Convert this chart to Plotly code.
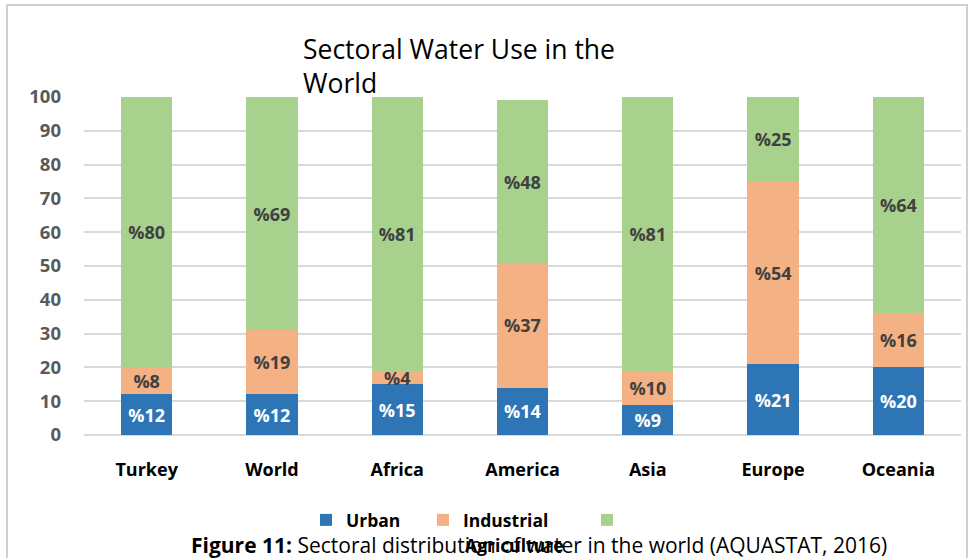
import plotly.graph_objects as go

# Regions and sectoral shares of water withdrawal (%)
regions = ["Turkey", "World", "Africa", "America", "Asia", "Europe", "Oceania"]
urban = [12, 12, 15, 14, 9, 21, 20]
industrial = [8, 19, 4, 37, 10, 54, 16]
agriculture = [80, 69, 81, 48, 81, 25, 64]

y_ticks = [0, 10, 20, 30, 40, 50, 60, 70, 80, 90, 100]

FONT = "Open Sans"
C_URBAN = "#2E75B6"
C_IND = "#F4B183"
C_AGR = "#A9D18E"
LABEL_DARK = "#404040"

# Plot-area geometry in pixels
W, H = 976, 558
L, R, T, B = 84, 15, 97, 123
PW, PH = W - L - R, H - T - B


def px_x(x):
    return (x - L) / PW


def px_y(y):
    return (H - B - y) / PH


def seg(name, vals, color, txtcolor, legend):
    return go.Bar(
        name=name, x=regions, y=vals,
        marker=dict(color=color, line=dict(width=0)),
        text=["%" + str(v) for v in vals],
        textposition="inside", insidetextanchor="middle",
        textangle=0, constraintext="none",
        textfont=dict(family=FONT, size=18, color=txtcolor, weight="bold"),
        legend=legend, hoverinfo="x+y+name",
    )


fig = go.Figure()
fig.add_trace(seg("Urban", urban, C_URBAN, "white", "legend"))
fig.add_trace(seg("Industrial", industrial, C_IND, LABEL_DARK, "legend2"))
fig.add_trace(seg("", agriculture, C_AGR, LABEL_DARK, "legend3"))

leg_common = dict(
    orientation="h", yanchor="middle", xanchor="left",
    font=dict(family=FONT, size=17.5, color="black", weight="bold"),
    bgcolor="rgba(0,0,0,0)", itemwidth=30,
)

fig.update_layout(
    width=W, height=H,
    margin=dict(l=L, r=R, t=T, b=B),
    paper_bgcolor="white", plot_bgcolor="white",
    barmode="stack", bargap=0.59,
    showlegend=True,
    legend=dict(x=px_x(306), y=px_y(520), **leg_common),
    legend2=dict(x=px_x(423), y=px_y(520), **leg_common),
    legend3=dict(x=px_x(587), y=px_y(520), **leg_common),
    xaxis=dict(
        showgrid=False, showline=False, zeroline=False, ticks="",
        ticklabelstandoff=22,
        tickfont=dict(family=FONT, size=18, color="black", weight="bold"),
    ),
    yaxis=dict(
        range=[0, 100], tickvals=y_ticks, ticks="",
        showgrid=True, gridcolor="#D9D9D9", gridwidth=1.5,
        zeroline=True, zerolinecolor="#D9D9D9", zerolinewidth=1.5,
        showline=False, ticklabelstandoff=22,
        tickfont=dict(family=FONT, size=18.5, color="#595959", weight="bold"),
    ),
    title=dict(
        text="Sectoral Water Use in the<br>World",
        x=px_x(303), xanchor="left", xref="paper",
        y=1 - 59 / H, yanchor="middle", yref="container",
        font=dict(family=FONT, size=26.5, color="black"),
    ),
    annotations=[
        dict(
            text="Agriculture", x=px_x(463), y=px_y(545),
            xref="paper", yref="paper", xanchor="left", yanchor="middle",
            showarrow=False,
            font=dict(family=FONT, size=17.5, color="black", weight="bold"),
        ),
        dict(
            text="<b>Figure 11:</b> Sectoral distribution of water in the world (AQUASTAT, 2016)",
            x=px_x(539), y=px_y(545),
            xref="paper", yref="paper", xanchor="center", yanchor="middle",
            showarrow=False,
            font=dict(family=FONT, size=21, color="black"),
        ),
    ],
    shapes=[
        dict(
            type="rect", xref="paper", yref="paper",
            x0=px_x(7), x1=px_x(967), y0=px_y(575), y1=px_y(5),
            line=dict(color="#D0D0D0", width=2), layer="below",
        )
    ],
)

fig.write_html("out.html")
